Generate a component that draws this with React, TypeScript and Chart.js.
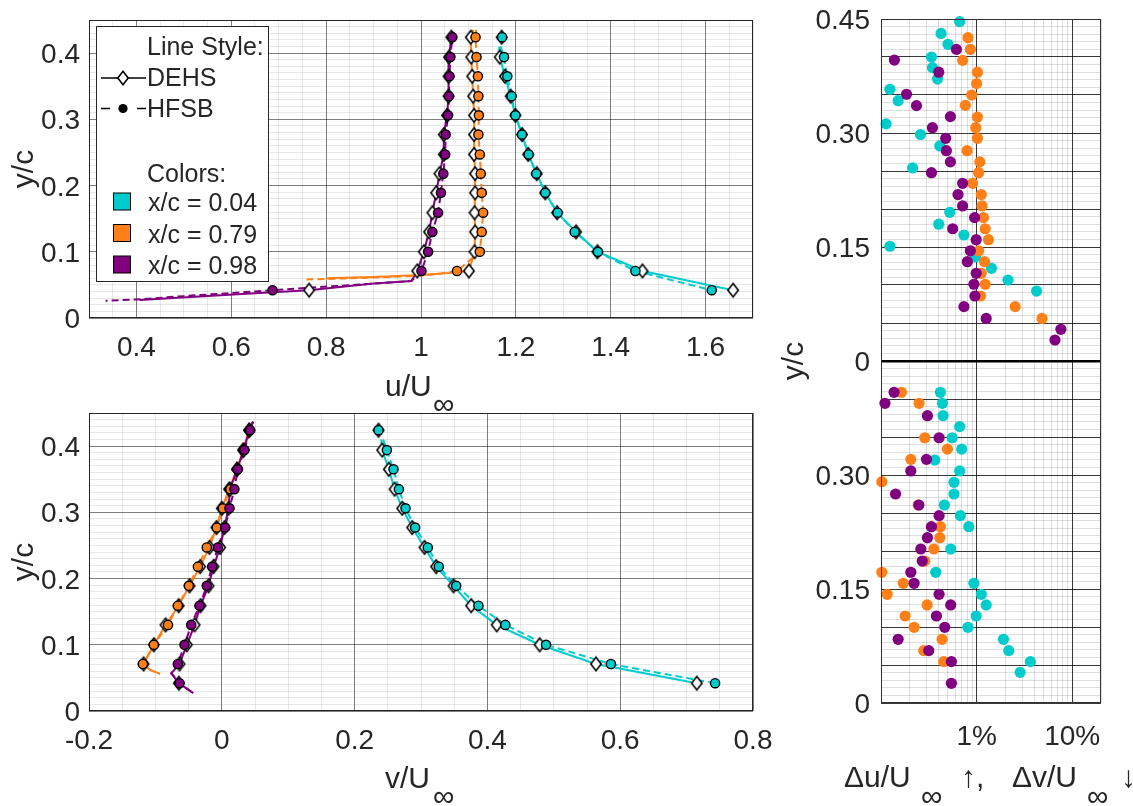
import React, { useEffect, useRef } from 'react';
import { Chart, registerables } from 'chart.js';
Chart.register(...registerables);

const W = 1133;
const H = 806;
const FONT = '"Liberation Sans", Arial, sans-serif';
const TXT = '#262626';
const CYAN = 'rgb(0,204,204)';
const ORANGE = 'rgb(255,128,25)';
const PURPLE = 'rgb(128,0,128)';
const MAJ = 'rgba(0,0,0,0.5)';
const MIN = 'rgba(0,0,0,0.09)';
const ERR_MAJ = 'rgba(0,0,0,0.78)';
const ERR_MIN = 'rgba(0,0,0,0.13)';

// ---------- profile stations (y/c) ----------
const Y_ROWS = [0.424, 0.394, 0.365, 0.335, 0.306, 0.277, 0.247, 0.218, 0.189, 0.159, 0.130, 0.100, 0.071, 0.042];

// ---------- u/U∞ markers ----------
const U_CYAN_DEHS = [1.170, 1.166, 1.177, 1.189, 1.199, 1.213, 1.226, 1.244, 1.262, 1.287, 1.327, 1.372, 1.467, 1.658];
const U_CYAN_HFSB = [1.171, 1.175, 1.182, 1.191, 1.199, 1.213, 1.227, 1.243, 1.262, 1.288, 1.324, 1.373, 1.452, 1.613];
const U_ORANGE_DEHS = [1.105, 1.106, 1.108, 1.110, 1.112, 1.112, 1.112, 1.114, 1.114, 1.113, 1.114, 1.113, 1.101, null];
const U_ORANGE_HFSB = [1.115, 1.117, 1.120, 1.121, 1.122, 1.121, 1.124, 1.126, 1.128, 1.131, 1.128, 1.124, 1.076, null];
const U_PURPLE_DEHS = [1.064, 1.059, 1.058, 1.058, 1.055, 1.048, 1.048, 1.039, 1.032, 1.024, 1.017, 1.006, 0.992, 0.764];
const U_PURPLE_HFSB = [1.066, 1.062, 1.060, 1.059, 1.057, 1.052, 1.051, 1.047, 1.042, 1.036, 1.024, 1.015, 1.001, 0.687];

// u/U∞ profile line ends
const U_HEAD_X = [1.165, 1.11, 1.066]; // cyan, orange, purple
const U_HEAD_Y = [0.41, 0.435, 0.432];
const U_ORANGE_TAIL_DEHS_X = [1.06, 1.0, 0.9, 0.8];
const U_ORANGE_TAIL_DEHS_Y = [0.068, 0.065, 0.062, 0.060];
const U_ORANGE_TAIL_HFSB_X = [1.04, 1.0, 0.9, 0.755];
const U_ORANGE_TAIL_HFSB_Y = [0.067, 0.064, 0.061, 0.058];
const U_PURPLE_KINK_X = [0.98, 0.9];
const U_PURPLE_KINK_Y = [0.056, 0.052];
const U_PURPLE_TAIL_DEHS_X = [0.64, 0.407];
const U_PURPLE_TAIL_DEHS_Y = [0.037, 0.027];
const U_PURPLE_TAIL_HFSB_X = [0.5, 0.4, 0.335];
const U_PURPLE_TAIL_HFSB_Y = [0.033, 0.028, 0.026];

// ---------- v/U∞ markers ----------
const V_CYAN_DEHS = [0.236, 0.2416, 0.2516, 0.2602, 0.2717, 0.2868, 0.3053, 0.3228, 0.349, 0.3755, 0.414, 0.4787, 0.5635, 0.7153];
const V_CYAN_HFSB = [0.236, 0.2486, 0.2586, 0.2667, 0.2767, 0.2912, 0.3102, 0.3268, 0.353, 0.3865, 0.427, 0.4883, 0.586, 0.7429];
const V_ORANGE_DEHS = [0.041, 0.032, 0.023, 0.011, 0.0, -0.008, -0.0186, -0.0326, -0.0486, -0.065, -0.0847, -0.1023, -0.1178, null];
const V_ORANGE_HFSB = [0.042, 0.033, 0.024, 0.013, 0.0015, -0.0075, -0.0226, -0.036, -0.0496, -0.0662, -0.081, -0.1023, -0.1188, null];
const V_PURPLE_DEHS = [0.0416, 0.033, 0.023, 0.0125, 0.010, 0.004, -0.0025, -0.0125, -0.020, -0.032, -0.041, -0.0526, -0.0637, -0.0647];
const V_PURPLE_HFSB = [0.0426, 0.034, 0.024, 0.019, 0.0115, 0.005, -0.006, -0.0145, -0.0226, -0.0336, -0.0461, -0.0561, -0.0662, -0.0637];

const V_HEAD_X = [0.24, 0.047, 0.047];
const V_HEAD_Y = [0.41, 0.437, 0.437];
const V_ORANGE_TAIL_X = [-0.108, -0.093];
const V_ORANGE_TAIL_Y = [0.062, 0.056];
const V_PURPLE_KINK_X = [-0.076];
const V_PURPLE_KINK_Y = [0.057];
const V_PURPLE_TAIL_X = [-0.043];
const V_PURPLE_TAIL_Y = [0.027];

// ---------- uncertainty panel: Δu/U∞ (upper half), Δv/U∞ (lower half), in % ----------
const DU_CYAN_X = [0.665, 0.425, 0.502, 0.337, 0.345, 0.39, 0.124, 0.151, 0.113, 0.259, 0.412, 0.214, 0.524, 0.402, 0.737, 0.124, 0.976, 1.43, 2.13, 4.24];
const DU_CYAN_Y = [0.4465, 0.431, 0.4167, 0.400, 0.386, 0.371, 0.3575, 0.3425, 0.312, 0.298, 0.283, 0.254, 0.1956, 0.180, 0.1658, 0.151, 0.137, 0.122, 0.1066, 0.092];
const DU_ORANGE_X = [0.812, 0.86, 0.714, 1.02, 1.0, 0.888, 0.762, 1.02, 0.98, 1.02, 0.795, 1.08, 1.05, 0.91, 1.12, 1.14, 1.18, 1.23, 1.33, 1.05, 1.21, 1.12, 1.23, 1.1, 2.53, 4.83];
const DU_ORANGE_Y = [0.4254, 0.410, 0.3956, 0.380, 0.365, 0.350, 0.3364, 0.321, 0.307, 0.293, 0.2767, 0.262, 0.2478, 0.2338, 0.219, 0.204, 0.1886, 0.174, 0.1596, 0.145, 0.1307, 0.1154, 0.101, 0.0855, 0.0715, 0.056];
const DU_PURPLE_X = [0.615, 0.138, 0.402, 0.185, 0.235, 0.532, 0.345, 0.475, 0.483, 0.532, 0.337, 0.714, 0.639, 0.714, 0.953, 0.562, 0.99, 0.86, 0.80, 0.99, 0.937, 0.96, 0.737, 1.26, 7.61, 6.6];
const DU_PURPLE_Y = [0.410, 0.396, 0.380, 0.351, 0.336, 0.3215, 0.307, 0.293, 0.2767, 0.262, 0.2478, 0.2338, 0.219, 0.204, 0.1886, 0.174, 0.1596, 0.145, 0.1307, 0.1154, 0.101, 0.0855, 0.0715, 0.056, 0.0417, 0.0276];

const DV_CYAN_X = [0.418, 0.439, 0.446, 0.665, 0.555, 0.698, 0.365, 0.665, 0.58, 0.58, 0.46, 0.676, 0.83, 0.536, 0.374, 0.937, 1.12, 1.26, 0.99, 0.812, 1.91, 2.17, 3.65, 2.85];
const DV_CYAN_Y = [0.4088, 0.3943, 0.378, 0.3636, 0.349, 0.334, 0.3197, 0.3053, 0.2904, 0.275, 0.2605, 0.2465, 0.232, 0.2026, 0.172, 0.1575, 0.143, 0.129, 0.1145, 0.0996, 0.0838, 0.0689, 0.0544, 0.0403];
const DV_ORANGE_X = [0.164, 0.25, 0.287, 0.495, 0.205, 0.102, 0.245, 0.418, 0.412, 0.357, 0.287, 0.102, 0.171, 0.116, 0.304, 0.179, 0.222, 0.435, 0.28, 0.453];
const DV_ORANGE_Y = [0.4088, 0.3943, 0.349, 0.334, 0.3206, 0.2912, 0.2605, 0.232, 0.2175, 0.2026, 0.1868, 0.172, 0.1575, 0.143, 0.129, 0.1145, 0.0996, 0.0838, 0.0689, 0.0544];
const DV_PURPLE_X = [0.137, 0.110, 0.306, 0.405, 0.299, 0.205, 0.142, 0.249, 0.405, 0.337, 0.306, 0.261, 0.27, 0.205, 0.222, 0.405, 0.536, 0.38, 0.464, 0.151, 0.316, 0.545, 0.545];
const DV_PURPLE_Y = [0.4088, 0.3943, 0.378, 0.349, 0.3206, 0.3053, 0.275, 0.2605, 0.2465, 0.232, 0.2175, 0.2026, 0.1868, 0.172, 0.1575, 0.143, 0.129, 0.1145, 0.0996, 0.0838, 0.0689, 0.0544, 0.0259];

// ---------- ticks ----------
const Y_TICKS = [0, 0.1, 0.2, 0.3, 0.4];
const Y_TICK_LABELS = ['0', '0.1', '0.2', '0.3', '0.4'];
const U_TICKS = [0.4, 0.6, 0.8, 1.0, 1.2, 1.4, 1.6];
const U_TICK_LABELS = ['0.4', '0.6', '0.8', '1', '1.2', '1.4', '1.6'];
const V_TICKS = [-0.2, 0, 0.2, 0.4, 0.6, 0.8];
const V_TICK_LABELS = ['-0.2', '0', '0.2', '0.4', '0.6', '0.8'];
const ERR_X_TICKS = [0.1, 0.2, 0.3, 0.4, 0.5, 0.6, 0.7, 0.8, 0.9, 1, 2, 3, 4, 5, 6, 7, 8, 9, 10, 20];
const ERR_X_LABEL_TICKS = [1, 10];
const ERR_X_LABELS = ['1%', '10%'];
const ERR_Y_TICKS = [0.45, 0.3, 0.15, 0, -0.15, -0.3, -0.45];
const ERR_Y_LABELS = ['0.45', '0.30', '0.15', '0', '0.30', '0.15', '0'];
const LEGEND_LABELS = ['x/c = 0.04', 'x/c = 0.79', 'x/c = 0.98'];
const LEGEND_COLORS = [CYAN, ORANGE, PURPLE];

type P = { x: number; y: number };
const xy = (xs: (number | null)[], ys: number[]): P[] => {
  const out: P[] = [];
  xs.forEach((x, i) => { if (x !== null && x !== undefined) out.push({ x, y: ys[i] }); });
  return out;
};
const rows = (xs: (number | null)[], from: number, to: number): P[] =>
  xy(xs.slice(from, to + 1), Y_ROWS.slice(from, to + 1));

const isMult = (v: number, step: number) => Math.abs(v / step - Math.round(v / step)) < 1e-6;
const zeroFit = (s: any) => { if (s.isHorizontal()) s.height = 0; else s.width = 0; };

function txt(ctx: CanvasRenderingContext2D, s: string, x: number, base: number, size: number, align: CanvasTextAlign = 'left') {
  ctx.font = `${size}px ${FONT}`;
  ctx.fillStyle = TXT;
  ctx.textAlign = align;
  ctx.textBaseline = 'alphabetic';
  ctx.fillText(s, x, base);
}
function rotTxt(ctx: CanvasRenderingContext2D, s: string, baseX: number, cy: number, size: number) {
  ctx.save();
  ctx.translate(baseX, cy);
  ctx.rotate(-Math.PI / 2);
  txt(ctx, s, 0, 0, size, 'center');
  ctx.restore();
}
const TICK = 28;
const TITLE = 30;

function diamondPath(g: CanvasRenderingContext2D, cx: number, cy: number, hw: number, hh: number) {
  g.beginPath();
  g.moveTo(cx, cy - hh);
  g.lineTo(cx + hw, cy);
  g.lineTo(cx, cy + hh);
  g.lineTo(cx - hw, cy);
  g.closePath();
}
function diamondImg(): HTMLCanvasElement {
  const c = document.createElement('canvas');
  c.width = 14; c.height = 17;
  const g = c.getContext('2d')!;
  diamondPath(g, 7, 8.5, 5.2, 6.8);
  g.fillStyle = '#fff'; g.fill();
  g.lineWidth = 1.6; g.strokeStyle = '#000'; g.stroke();
  return c;
}

const lineDs = (data: P[], color: string, dashed: boolean) => ({
  data, showLine: true, borderColor: color, borderWidth: 2, borderDash: dashed ? [7, 4] : [],
  pointRadius: 0, pointHoverRadius: 0, fill: false, order: 3, clip: false, tension: 0,
});
const diamondDs = (data: P[], img: HTMLCanvasElement) => ({
  data, showLine: false, pointStyle: img, pointRadius: 7, order: 2, clip: false,
});
const circleDs = (data: P[], color: string) => ({
  data, showLine: false, pointStyle: 'circle', pointRadius: 4.6, backgroundColor: color,
  borderColor: '#000', borderWidth: 1.4, order: 1, clip: false,
});

function linScale(min: number, max: number, step: number, major: number) {
  return {
    type: 'linear', min, max,
    ticks: { stepSize: step, display: false },
    grid: { drawTicks: false, lineWidth: 1, color: (c: any) => (isMult(c.tick.value, major) ? MAJ : MIN) },
    border: { display: false },
    afterFit: zeroFit,
  };
}

function frame(ctx: CanvasRenderingContext2D, a: any, color = '#262626') {
  ctx.save();
  ctx.strokeStyle = color; ctx.lineWidth = 1;
  ctx.strokeRect(a.left + 0.5, a.top + 0.5, a.right - a.left - 1, a.bottom - a.top - 1);
  ctx.restore();
}

function drawLegend(ctx: CanvasRenderingContext2D) {
  ctx.save();
  ctx.fillStyle = '#fff';
  ctx.fillRect(96.5, 26.5, 172, 255);
  ctx.strokeStyle = '#262626'; ctx.lineWidth = 1;
  ctx.strokeRect(96.5, 26.5, 172, 255);
  txt(ctx, 'Line Style:', 147, 55, 25);
  // DEHS
  ctx.strokeStyle = '#000'; ctx.lineWidth = 1.6;
  ctx.beginPath(); ctx.moveTo(101, 78); ctx.lineTo(146, 78); ctx.stroke();
  diamondPath(ctx, 123, 78, 5.2, 6.8);
  ctx.fillStyle = '#fff'; ctx.fill(); ctx.stroke();
  txt(ctx, 'DEHS', 147, 86, 25);
  // HFSB
  ctx.beginPath(); ctx.moveTo(101, 108.5); ctx.lineTo(110, 108.5); ctx.moveTo(137, 108.5); ctx.lineTo(146, 108.5); ctx.stroke();
  ctx.beginPath(); ctx.arc(123, 108.5, 4.6, 0, Math.PI * 2); ctx.fillStyle = '#000'; ctx.fill();
  txt(ctx, 'HFSB', 147, 117, 25);
  txt(ctx, 'Colors:', 147, 182, 25);
  LEGEND_LABELS.forEach((lab, i) => {
    const cy = [201.5, 233, 264.5][i];
    ctx.fillStyle = LEGEND_COLORS[i];
    ctx.fillRect(113.5, cy - 8.5, 17, 17);
    ctx.strokeStyle = '#000'; ctx.lineWidth = 1;
    ctx.strokeRect(113.5, cy - 8.5, 17, 17);
    txt(ctx, lab, 148, cy + 9.5, 25);
  });
  ctx.restore();
}

function uinfTitle(ctx: CanvasRenderingContext2D, pre: string, x: number, base: number, infX: number, infBase: number) {
  txt(ctx, pre, x, base, TITLE);
  txt(ctx, '∞', infX, infBase, 30);
}

const commonOpts = {
  responsive: false, animation: false, devicePixelRatio: 1, events: [] as any[],
  plugins: { legend: { display: false }, tooltip: { enabled: false } },
};

function makeUChart(img: HTMLCanvasElement): any {
  const lines = [
    lineDs([{ x: U_HEAD_X[0], y: U_HEAD_Y[0] }, ...rows(U_CYAN_DEHS, 1, 13)], CYAN, false),
    lineDs([{ x: U_HEAD_X[0] + 0.003, y: U_HEAD_Y[0] }, ...rows(U_CYAN_HFSB, 1, 13)], CYAN, true),
    lineDs([{ x: U_HEAD_X[1], y: U_HEAD_Y[1] }, ...rows(U_ORANGE_DEHS, 0, 12), ...xy(U_ORANGE_TAIL_DEHS_X, U_ORANGE_TAIL_DEHS_Y)], ORANGE, false),
    lineDs([{ x: U_HEAD_X[1] + 0.006, y: U_HEAD_Y[1] }, ...rows(U_ORANGE_HFSB, 0, 12), ...xy(U_ORANGE_TAIL_HFSB_X, U_ORANGE_TAIL_HFSB_Y)], ORANGE, true),
    lineDs([{ x: U_HEAD_X[2], y: U_HEAD_Y[2] }, ...rows(U_PURPLE_DEHS, 0, 12), ...xy(U_PURPLE_KINK_X, U_PURPLE_KINK_Y), ...rows(U_PURPLE_DEHS, 13, 13), ...xy(U_PURPLE_TAIL_DEHS_X, U_PURPLE_TAIL_DEHS_Y)], PURPLE, false),
    lineDs([{ x: U_HEAD_X[2] + 0.003, y: U_HEAD_Y[2] }, ...rows(U_PURPLE_HFSB, 0, 12), ...xy(U_PURPLE_KINK_X, U_PURPLE_KINK_Y), ...rows(U_PURPLE_HFSB, 13, 13), ...xy(U_PURPLE_TAIL_HFSB_X, U_PURPLE_TAIL_HFSB_Y)], PURPLE, true),
  ];
  const marks = [
    diamondDs(rows(U_PURPLE_DEHS, 0, 13), img),
    diamondDs(rows(U_ORANGE_DEHS, 0, 13), img),
    diamondDs(rows(U_CYAN_DEHS, 0, 13), img),
    circleDs(rows(U_PURPLE_HFSB, 0, 13), PURPLE),
    circleDs(rows(U_ORANGE_HFSB, 0, 13), ORANGE),
    circleDs(rows(U_CYAN_HFSB, 0, 13), CYAN),
  ];
  return {
    type: 'scatter',
    data: { datasets: [...lines, ...marks] },
    options: {
      ...commonOpts,
      layout: { padding: { left: 89, top: 20, right: W - 753, bottom: H - 318 } },
      scales: { x: linScale(0.3, 1.7, 0.05, 0.2), y: linScale(0, 0.45, 0.01, 0.1) },
    },
    plugins: [{
      id: 'decoU',
      afterDraw(chart: any) {
        const ctx = chart.ctx as CanvasRenderingContext2D;
        const a = chart.chartArea;
        frame(ctx, a);
        U_TICKS.forEach((v, i) => txt(ctx, U_TICK_LABELS[i], chart.scales.x.getPixelForValue(v), 356, TICK, 'center'));
        Y_TICKS.forEach((v, i) => txt(ctx, Y_TICK_LABELS[i], 80, chart.scales.y.getPixelForValue(v) + 10, TICK, 'right'));
        rotTxt(ctx, 'y/c', 33, (a.top + a.bottom) / 2, TITLE);
        uinfTitle(ctx, 'u/U', 385, 396, 433, 414);
        drawLegend(ctx);
      },
    }],
  };
}

function makeVChart(img: HTMLCanvasElement): any {
  const lines = [
    lineDs([{ x: V_HEAD_X[2], y: V_HEAD_Y[2] }, ...rows(V_PURPLE_DEHS, 0, 12), ...xy(V_PURPLE_KINK_X, V_PURPLE_KINK_Y), ...rows(V_PURPLE_DEHS, 13, 13), ...xy(V_PURPLE_TAIL_X, V_PURPLE_TAIL_Y)], PURPLE, false),
    lineDs([{ x: V_HEAD_X[2], y: V_HEAD_Y[2] }, ...rows(V_PURPLE_HFSB, 0, 12), ...xy(V_PURPLE_KINK_X, V_PURPLE_KINK_Y), ...rows(V_PURPLE_HFSB, 13, 13), ...xy(V_PURPLE_TAIL_X, V_PURPLE_TAIL_Y)], PURPLE, true),
    lineDs([{ x: V_HEAD_X[0], y: V_HEAD_Y[0] }, ...rows(V_CYAN_DEHS, 1, 13)], CYAN, false),
    lineDs([{ x: V_HEAD_X[0] + 0.003, y: V_HEAD_Y[0] }, ...rows(V_CYAN_HFSB, 1, 13)], CYAN, true),
    lineDs([{ x: V_HEAD_X[1], y: V_HEAD_Y[1] }, ...rows(V_ORANGE_DEHS, 0, 12), ...xy(V_ORANGE_TAIL_X, V_ORANGE_TAIL_Y)], ORANGE, false),
    lineDs([{ x: V_HEAD_X[1], y: V_HEAD_Y[1] }, ...rows(V_ORANGE_HFSB, 0, 12), ...xy(V_ORANGE_TAIL_X, V_ORANGE_TAIL_Y)], ORANGE, true),
  ];
  const marks = [
    diamondDs(rows(V_PURPLE_DEHS, 0, 13), img),
    diamondDs(rows(V_ORANGE_DEHS, 0, 13), img),
    diamondDs(rows(V_CYAN_DEHS, 0, 13), img),
    circleDs(rows(V_PURPLE_HFSB, 0, 13), PURPLE),
    circleDs(rows(V_ORANGE_HFSB, 0, 13), ORANGE),
    circleDs(rows(V_CYAN_HFSB, 0, 13), CYAN),
  ];
  return {
    type: 'scatter',
    data: { datasets: [...lines, ...marks] },
    options: {
      ...commonOpts,
      layout: { padding: { left: 89, top: 413, right: W - 753, bottom: H - 711 } },
      scales: { x: linScale(-0.2, 0.8, 0.05, 0.2), y: linScale(0, 0.45, 0.01, 0.1) },
    },
    plugins: [{
      id: 'decoV',
      afterDraw(chart: any) {
        const ctx = chart.ctx as CanvasRenderingContext2D;
        const a = chart.chartArea;
        frame(ctx, a);
        V_TICKS.forEach((v, i) => txt(ctx, V_TICK_LABELS[i], chart.scales.x.getPixelForValue(v), 749, TICK, 'center'));
        Y_TICKS.forEach((v, i) => txt(ctx, Y_TICK_LABELS[i], 80, chart.scales.y.getPixelForValue(v) + 10, TICK, 'right'));
        rotTxt(ctx, 'y/c', 33, (a.top + a.bottom) / 2, TITLE);
        uinfTitle(ctx, 'v/U', 385, 788, 433, 806);
      },
    }],
  };
}

function makeErrChart(): any {
  const dot = (xs: number[], ys: number[], color: string, order: number, shift: number) => ({
    data: xs.map((x, i) => ({ x, y: ys[i] + shift })),
    showLine: false, pointStyle: 'circle', pointRadius: 5.6, backgroundColor: color,
    borderWidth: 0, order, clip: false,
  });
  return {
    type: 'scatter',
    data: {
      datasets: [
        dot(DU_CYAN_X, DU_CYAN_Y, CYAN, 3, 0),
        dot(DU_ORANGE_X, DU_ORANGE_Y, ORANGE, 2, 0),
        dot(DU_PURPLE_X, DU_PURPLE_Y, PURPLE, 1, 0),
        dot(DV_CYAN_X, DV_CYAN_Y, CYAN, 3, -0.45),
        dot(DV_ORANGE_X, DV_ORANGE_Y, ORANGE, 2, -0.45),
        dot(DV_PURPLE_X, DV_PURPLE_Y, PURPLE, 1, -0.45),
      ],
    },
    options: {
      ...commonOpts,
      layout: { padding: { left: 881, top: 19, right: W - 1101, bottom: H - 703 } },
      scales: {
        x: {
          type: 'logarithmic', min: 0.1, max: 20,
          ticks: { display: false },
          afterBuildTicks: (s: any) => { s.ticks = ERR_X_TICKS.map((v) => ({ value: v })); },
          grid: {
            drawTicks: false, lineWidth: 1,
            color: (c: any) => (isMult(Math.log10(c.tick.value), 1) ? ERR_MAJ : ERR_MIN),
          },
          border: { display: false },
          afterFit: zeroFit,
        },
        y: {
          type: 'linear', min: -0.45, max: 0.45,
          ticks: { stepSize: 0.01, display: false },
          grid: {
            drawTicks: false,
            lineWidth: (c: any) => (Math.abs(c.tick.value) < 1e-6 ? 2.5 : 1),
            color: (c: any) => (Math.abs(c.tick.value) < 1e-6 ? '#000' : isMult(c.tick.value, 0.05) ? ERR_MAJ : ERR_MIN),
          },
          border: { display: false },
          afterFit: zeroFit,
        },
      },
    },
    plugins: [{
      id: 'decoErr',
      afterDraw(chart: any) {
        const ctx = chart.ctx as CanvasRenderingContext2D;
        const a = chart.chartArea;
        frame(ctx, a, '#333');
        ERR_X_LABEL_TICKS.forEach((v, i) => txt(ctx, ERR_X_LABELS[i], chart.scales.x.getPixelForValue(v), 745, TICK, 'center'));
        ERR_Y_TICKS.forEach((v, i) => txt(ctx, ERR_Y_LABELS[i], 870, chart.scales.y.getPixelForValue(v) + 10, TICK, 'right'));
        rotTxt(ctx, 'y/c', 803, (a.top + a.bottom) / 2, TITLE);
        txt(ctx, 'Δu/U', 844, 787, TITLE);
        txt(ctx, '∞', 921, 806, 30);
        txt(ctx, '↑,', 961, 787, TITLE);
        txt(ctx, 'Δv/U', 1012, 787, TITLE);
        txt(ctx, '∞', 1087, 806, 30);
        txt(ctx, '↓', 1121, 787, TITLE);
      },
    }],
  };
}

export default function App() {
  const c1 = useRef<HTMLCanvasElement>(null);
  const c2 = useRef<HTMLCanvasElement>(null);
  const c3 = useRef<HTMLCanvasElement>(null);
  useEffect(() => {
    const img = diamondImg();
    const charts = [
      new Chart(c1.current!, makeUChart(img)),
      new Chart(c2.current!, makeVChart(img)),
      new Chart(c3.current!, makeErrChart()),
    ];
    return () => charts.forEach((c) => c.destroy());
  }, []);
  const cs: React.CSSProperties = { position: 'absolute', left: 0, top: 0, width: W, height: H };
  return (
    <div style={{ position: 'absolute', left: 0, top: 0, width: W, height: H, background: '#fff', overflow: 'hidden' }}>
      <canvas ref={c1} width={W} height={H} style={cs} />
      <canvas ref={c2} width={W} height={H} style={cs} />
      <canvas ref={c3} width={W} height={H} style={cs} />
    </div>
  );
}
